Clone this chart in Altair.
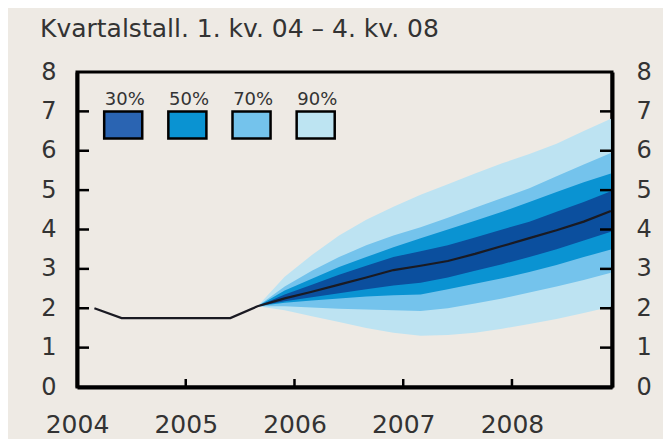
import altair as alt
import pandas as pd

# ---------------- data ----------------
years = [2004, 2004, 2004, 2004, 2005, 2005, 2005, 2005, 2006, 2006,
         2006, 2006, 2007, 2007, 2007, 2007, 2008, 2008, 2008, 2008]
qtrs = [1, 2, 3, 4, 1, 2, 3, 4, 1, 2, 3, 4, 1, 2, 3, 4, 1, 2, 3, 4]

# observed (1.kv.04 - 3.kv.05)
history = [2.0, 1.75, 1.75, 1.75, 1.75, 1.75, 2.05]

# projection (3.kv.05 - 4.kv.08)
median = [2.05, 2.25, 2.42, 2.6, 2.78, 2.97, 3.08, 3.2, 3.38, 3.58, 3.78, 3.98, 4.2, 4.47]
hi90 = [2.05, 2.8, 3.35, 3.85, 4.25, 4.58, 4.88, 5.15, 5.42, 5.68, 5.92, 6.18, 6.5, 6.81]
hi70 = [2.05, 2.55, 2.95, 3.3, 3.6, 3.85, 4.06, 4.3, 4.55, 4.8, 5.05, 5.35, 5.65, 5.94]
hi50 = [2.05, 2.45, 2.75, 3.05, 3.3, 3.55, 3.78, 4.0, 4.22, 4.45, 4.7, 4.95, 5.2, 5.42]
hi30 = [2.05, 2.35, 2.6, 2.85, 3.08, 3.3, 3.45, 3.6, 3.8, 4.0, 4.2, 4.45, 4.7, 4.97]
lo30 = [2.05, 2.18, 2.28, 2.38, 2.48, 2.58, 2.65, 2.78, 2.95, 3.12, 3.3, 3.5, 3.72, 3.94]
lo50 = [2.05, 2.14, 2.2, 2.25, 2.3, 2.33, 2.35, 2.48, 2.62, 2.76, 2.92, 3.1, 3.3, 3.49]
lo70 = [2.05, 2.05, 2.02, 1.99, 1.97, 1.95, 1.93, 2.0, 2.12, 2.25, 2.4, 2.55, 2.72, 2.9]
lo90 = [2.05, 1.95, 1.8, 1.65, 1.5, 1.38, 1.3, 1.32, 1.38, 1.48, 1.6, 1.73, 1.88, 2.04]

legend_labels = ["30%", "50%", "70%", "90%"]
legend_colors = ["#2a64b2", "#0a93d2", "#74c3ec", "#bde4f2"]
band_colors = {"30": "#0b4f9e", "50": "#0a93d2", "70": "#74c3ec", "90": "#bde3f2"}

y_ticks = [0, 1, 2, 3, 4, 5, 6, 7, 8]
x_ticks = [2004, 2005, 2006, 2007, 2008]
title_text = "Kvartalstall. 1. kv. 04 \u2013 4. kv. 08"

# ---------------- tables ----------------
x_all = [y + (q - 1) * 0.25 + 0.16 for y, q in zip(years, qtrs)]
n_hist = len(history)
fan_x = x_all[n_hist - 1:]

df_line = pd.DataFrame({"x": x_all, "v": history[:-1] + median})
df_fan = pd.DataFrame({
    "x": fan_x,
    "lo90": lo90, "hi90": hi90, "lo70": lo70, "hi70": hi70,
    "lo50": lo50, "hi50": hi50, "lo30": lo30, "hi30": hi30,
})
df_leg = pd.DataFrame({
    "label": legend_labels,
    "color": legend_colors,
    "x0": [2004.25 + 0.59 * i for i in range(len(legend_labels))],
})
df_leg["x1"] = df_leg["x0"] + 0.35
df_leg["xm"] = df_leg["x0"] + 0.19
df_leg["y0"] = 6.31
df_leg["y1"] = 7.0
df_leg["yt"] = 7.17

df_yt = pd.DataFrame({"v": y_ticks[1:-1]})
df_xt = pd.DataFrame({"x": x_ticks[1:]})

W, H = 535, 315
FONT = "DejaVu Sans"
TXT = "#333333"

xscale = alt.Scale(domain=[2004, 2008.92], nice=False, zero=False)
yscale = alt.Scale(domain=[0, 8], nice=False, zero=False)

x_axis = alt.Axis(values=x_ticks, format="d", ticks=False, grid=False, title=None,
                  labelFontSize=25, labelFont=FONT, labelColor=TXT, labelPadding=25,
                  labelFlush=False, domainColor="black", domainWidth=4,
                  labelBaseline="top")
y_axis_left = alt.Axis(values=y_ticks, ticks=False, grid=False, title=None,
                       labelFontSize=24, labelFont=FONT, labelColor=TXT, labelPadding=21,
                       domainColor="black", domainWidth=4, orient="left", labelFlush=False)
y_axis_right = alt.Axis(values=y_ticks, ticks=False, grid=False, title=None,
                        labelFontSize=24, labelFont=FONT, labelColor=TXT, labelPadding=24,
                        domainColor="black", domainWidth=4, orient="right", labelFlush=False)

base = alt.Chart(df_fan)


def band(p, first=False):
    return base.mark_area(color=band_colors[p], opacity=1, interpolate="linear").encode(
        x=alt.X("x:Q", scale=xscale, axis=x_axis),
        y=alt.Y(f"lo{p}:Q", scale=yscale, axis=y_axis_left if first else None),
        y2=f"hi{p}:Q",
    )


a90 = band("90", first=True)
a70 = band("70")
a50 = band("50")
a30 = band("30")

line = alt.Chart(df_line).mark_line(color="#1a1a22", strokeWidth=2.2).encode(
    x=alt.X("x:Q", scale=xscale, axis=x_axis),
    y=alt.Y("v:Q", scale=yscale, axis=None),
)

tick_left = alt.Chart(df_yt).mark_rule(color="black", strokeWidth=2.5).encode(
    x=alt.value(0), x2=alt.value(12),
    y=alt.Y("v:Q", scale=yscale, axis=None),
)
tick_right = alt.Chart(df_yt).mark_rule(color="black", strokeWidth=2.5).encode(
    x=alt.value(W - 12), x2=alt.value(W),
    y=alt.Y("v:Q", scale=yscale, axis=y_axis_right),
)
tick_bottom = alt.Chart(df_xt).mark_rule(color="black", strokeWidth=2.5).encode(
    x=alt.X("x:Q", scale=xscale, axis=x_axis),
    y=alt.value(H), y2=alt.value(H - 8),
)

leg_box = alt.Chart(df_leg).mark_rect(stroke="black", strokeWidth=2.5).encode(
    x=alt.X("x0:Q", scale=xscale, axis=x_axis),
    x2="x1:Q",
    y=alt.Y("y0:Q", scale=yscale, axis=None),
    y2="y1:Q",
    color=alt.Color("color:N", scale=None, legend=None),
)
leg_txt = alt.Chart(df_leg).mark_text(font=FONT, fontSize=18, color=TXT,
                                      baseline="alphabetic", align="center").encode(
    x=alt.X("xm:Q", scale=xscale, axis=x_axis),
    y=alt.Y("yt:Q", scale=yscale, axis=None),
    text="label:N",
)

chart = alt.layer(
    a90, a70, a50, a30, line, tick_left, tick_right, tick_bottom, leg_box, leg_txt
).resolve_scale(y="shared").resolve_axis(y="independent").properties(
    width=W, height=H,
    autosize=alt.AutoSizeParams(type="none"),
    padding={"left": 69, "top": 64, "right": 51, "bottom": 52},
    background="#eeeae4",
    title=alt.TitleParams(title_text, anchor="start", frame="group", dx=-37, offset=-2,
                          fontSize=25, font=FONT, fontWeight="normal", color=TXT,
                          baseline="alphabetic"),
).configure_view(stroke="black", strokeWidth=3)

chart.save("out.html", embed_options={"renderer": "svg", "actions": False})
